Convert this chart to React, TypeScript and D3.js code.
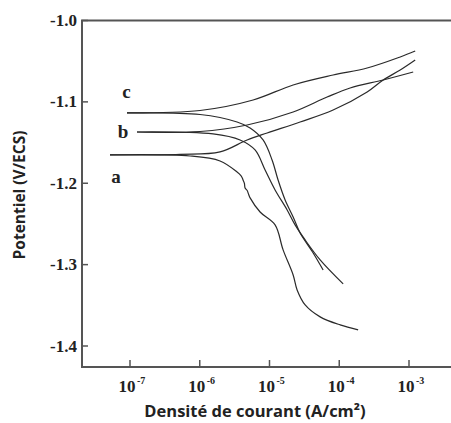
import React from "react";
import * as d3 from "d3";

// log10 current density vs potential (V/ECS)
const aAnodicLogI = [-7.287, -6.283, -5.709, -5.321, -5.034, -4.561, -4.088, -3.6, -3.37, -3.126, -2.911];
const aAnodicE = [-1.1652, -1.1646, -1.1615, -1.1468, -1.1382, -1.1247, -1.11, -1.0878, -1.0731, -1.0608, -1.0485];
const aCathLogI = [-7.287, -6.139, -5.709, -5.465, -5.41, -5.39, -5.379, -5.36, -5.35, -5.32, -5.3, -5.278, -5.135, -4.92, -4.805, -4.661, -4.604, -4.489, -4.274, -3.987, -3.729];
const aCathE = [-1.1652, -1.1665, -1.1726, -1.1861, -1.1905, -1.1935, -1.1959, -1.2, -1.2058, -1.209, -1.2135, -1.218, -1.2353, -1.2512, -1.2819, -1.3127, -1.3311, -1.3495, -1.3642, -1.3741, -1.3802];
const bAnodicLogI = [-6.9, -5.996, -5.321, -4.661, -4.174, -3.844, -3.37, -2.94];
const bAnodicE = [-1.137, -1.1364, -1.1284, -1.1124, -1.094, -1.0829, -1.0731, -1.0633];
const bCathLogI = [-6.9, -5.809, -5.422, -5.207, -5.063, -4.92, -4.747, -4.633, -4.489, -4.274, -3.944];
const bCathE = [-1.137, -1.1394, -1.1468, -1.1591, -1.1837, -1.2082, -1.2328, -1.2512, -1.2697, -1.2942, -1.3237];
const cAnodicLogI = [-7.043, -5.996, -5.235, -4.661, -4.088, -3.6, -3.126, -2.911];
const cAnodicE = [-1.1136, -1.1106, -1.0977, -1.0792, -1.067, -1.0584, -1.0448, -1.0375];
const cCathLogI = [-7.043, -5.996, -5.465, -5.278, -5.092, -4.963, -4.877, -4.776, -4.661, -4.561, -4.374, -4.231];
const cCathE = [-1.1136, -1.1155, -1.1247, -1.1321, -1.1468, -1.1714, -1.196, -1.2205, -1.2414, -1.2611, -1.2857, -1.3066];

const yTicks = [-1.0, -1.1, -1.2, -1.3, -1.4];
const xTickExps = [-7, -6, -5, -4, -3];
const curveLabels = [
  { text: "c", logI: -7.05, E: -1.095 },
  { text: "b", logI: -7.1, E: -1.145 },
  { text: "a", logI: -7.2, E: -1.2 },
];

const W = 451, H = 423;
const left = 82, right = 451, top = 20.5, bottom = 367;
const serif = "'Liberation Serif', 'Times New Roman', serif";
const sans = "'Open Sans', sans-serif";

export default function App() {
  const x = d3.scaleLinear().domain([-7, -3]).range([130, 409]);
  const y = d3.scaleLinear().domain([-1.0, -1.4]).range([top, 346]);
  const line = d3.line<[number, number]>().x(d => x(d[0])).y(d => y(d[1])).curve(d3.curveCatmullRom.alpha(0.5));
  const zip = (a: number[], b: number[]) => a.map((v, i) => [v, b[i]] as [number, number]);
  const series = [
    zip(aAnodicLogI, aAnodicE),
    zip(aCathLogI, aCathE),
    zip(bAnodicLogI, bAnodicE),
    zip(bCathLogI, bCathE),
    zip(cAnodicLogI, cAnodicE),
    zip(cCathLogI, cCathE),
  ];
  const axisColor = "#555";
  return (
    <div style={{ position: "fixed", left: 0, top: 0 }}>
      <svg width={W} height={H} style={{ display: "block", background: "#fff" }}>
        <g fill="none" stroke="#2a2a2a" strokeWidth={1.2} strokeLinejoin="round">
          {series.map((s, i) => <path key={i} d={line(s) || ""} />)}
        </g>
        <path d={`M${right},${top}H${left}V${bottom}H${right}`} fill="none" stroke={axisColor} strokeWidth={2} />
        {yTicks.map(t => (
          <g key={t}>
            <line x1={left} x2={left + 6} y1={y(t)} y2={y(t)} stroke={axisColor} strokeWidth={1.5} />
            <text x={77} y={y(t) + 5.5} textAnchor="end" fontFamily={serif} fontWeight="bold" fontSize={17} fill="#222">
              {t.toFixed(1)}
            </text>
          </g>
        ))}
        {xTickExps.map(e => (
          <g key={e}>
            <line x1={x(e)} x2={x(e)} y1={bottom} y2={bottom - 7} stroke={axisColor} strokeWidth={1.5} />
            <text x={x(e) - 3} y={392} textAnchor="middle" fontFamily={serif} fontWeight="bold" fontSize={17} fill="#222">
              10
            </text>
            <text x={x(e) + 7} y={384} textAnchor="start" fontFamily={serif} fontWeight="bold" fontSize={10} fill="#222">
              {e}
            </text>
          </g>
        ))}
        {curveLabels.map(c => (
          <text key={c.text} x={x(c.logI)} y={y(c.E)} textAnchor="middle" fontFamily={serif} fontWeight="bold" fontSize={19} fill="#222">
            {c.text}
          </text>
        ))}
        <text x={255} y={417} textAnchor="middle" fontFamily={sans} fontWeight="bold" fontSize={16.5} fill="#222">
          Densité de courant (A/cm²)
        </text>
        <text transform={`translate(25,195) rotate(-90)`} textAnchor="middle" fontFamily={sans} fontWeight="bold" fontSize={15.5} fill="#222">
          Potentiel (V/ECS)
        </text>
      </svg>
    </div>
  );
}
